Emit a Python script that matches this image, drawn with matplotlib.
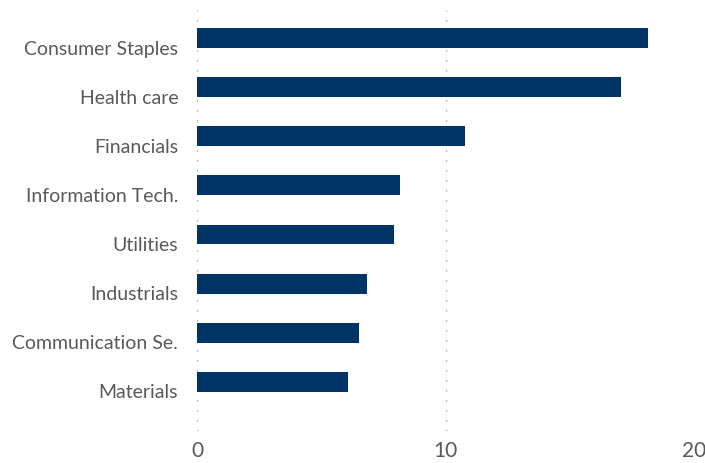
import matplotlib
matplotlib.use("Agg")
import matplotlib.pyplot as plt
from matplotlib.transforms import ScaledTranslation

categories = ["Consumer Staples", "Health care", "Financials", "Information Tech.",
              "Utilities", "Industrials", "Communication Se.", "Materials"]
values = [18.13, 17.08, 10.77, 8.16, 7.91, 6.84, 6.51, 6.07]
xticks = [0, 10, 20]

plt.rcParams['font.family'] = ['Lato', 'DejaVu Sans']

fig = plt.figure(figsize=(7.05, 4.63), dpi=100)
ax = fig.add_axes([197/705, 1 - 431/463, (694 - 197)/705, (431 - 10)/463])

pos = list(range(len(categories)))
ax.barh(pos, values, height=0.406, color="#003466", zorder=3)

ax.set_xlim(0, 20)
ax.set_ylim(8.0, -0.57)
ax.set_yticks(pos)
ax.set_yticklabels(categories, fontsize=14, color="#595959")
ax.set_xticks(xticks)
ax.set_xticklabels([str(t) for t in xticks], fontsize=15, color="#595959")
ax.tick_params(axis='both', length=0)
ax.tick_params(axis='y', pad=13.5)
ax.tick_params(axis='x', pad=7)
off = ScaledTranslation(0, -0.095, fig.dpi_scale_trans)
for lbl in ax.get_yticklabels():
    lbl.set_transform(lbl.get_transform() + off)
for s in ax.spines.values():
    s.set_visible(False)
ax.grid(axis='x', color="#a6a6a6", linewidth=1.0, linestyle=(0, (1, 6.2)), zorder=0)
ax.grid(axis='y', visible=False)

fig.savefig("out.png", dpi=100)
